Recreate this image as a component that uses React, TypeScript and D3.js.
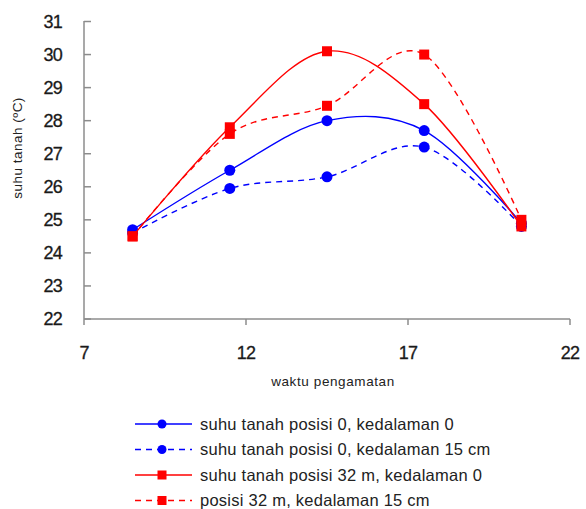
import React from "react";
import * as d3 from "d3";

const times = [8.5, 11.5, 14.5, 17.5, 20.5];
const blueSolid = [24.7, 26.5, 28.0, 27.7, 24.9];
const blueDashed = [24.6, 25.95, 26.3, 27.2, 24.8];
const redSolid = [24.5, 27.8, 30.1, 28.5, 24.8];
const redDashed = [24.5, 27.6, 28.45, 30.0, 25.0];
const xTicks = [7, 12, 17, 22];
const yTicks = [22, 23, 24, 25, 26, 27, 28, 29, 30, 31];
const seriesNames = [
  "suhu tanah posisi 0, kedalaman 0",
  "suhu tanah posisi 0, kedalaman 15 cm",
  "suhu tanah posisi 32 m, kedalaman 0",
  "posisi 32 m, kedalaman 15 cm",
];

const series = [
  { name: seriesNames[0], values: blueSolid, color: "#0000ff", dashed: false, marker: "circle" },
  { name: seriesNames[1], values: blueDashed, color: "#0000ff", dashed: true, marker: "circle" },
  { name: seriesNames[2], values: redSolid, color: "#ff0000", dashed: false, marker: "square" },
  { name: seriesNames[3], values: redDashed, color: "#ff0000", dashed: true, marker: "square" },
];

const W = 586;
const H = 509;
const left = 84;
const right = 570;
const top = 21.5;
const bottom = 319;

export default function App() {
  const x = d3.scaleLinear().domain([7, 22]).range([left, right]);
  const y = d3.scaleLinear().domain([22, 31]).range([bottom, top]);
  const line = d3
    .line<number>()
    .x((_, i) => x(times[i]))
    .y((d) => y(d))
    .curve(d3.curveCatmullRom.alpha(0));
  const axisColor = "#8c8c8c";
  const font = "'Liberation Sans', Arial, sans-serif";

  const marker = (m: string, cx: number, cy: number, color: string, key: string) =>
    m === "circle" ? (
      <circle key={key} cx={cx} cy={cy} r={5.5} fill={color} />
    ) : (
      <rect key={key} x={cx - 5} y={cy - 5} width={10} height={10} fill={color} />
    );

  return (
    <svg
      width={W}
      height={H}
      style={{ position: "absolute", left: 0, top: 0, background: "#fff" }}
      fontFamily={font}
    >
      {/* axes */}
      <line x1={left} x2={left} y1={top - 0.5} y2={bottom} stroke={axisColor} strokeWidth={1.5} />
      <line x1={left} x2={right} y1={bottom} y2={bottom} stroke={axisColor} strokeWidth={1.5} />
      {yTicks.map((t) => (
        <g key={"y" + t}>
          <line x1={left} x2={left + 7} y1={y(t)} y2={y(t)} stroke={axisColor} strokeWidth={1.5} />
          <text
            x={62}
            y={y(t)}
            dy="0.36em"
            textAnchor="end"
            fontSize={18}
            letterSpacing={-0.8}
            fill="#1a1a1a"
            stroke="#1a1a1a"
            strokeWidth={0.3}
          >
            {t}
          </text>
        </g>
      ))}
      {xTicks.map((t) => (
        <g key={"x" + t}>
          <line x1={x(t)} x2={x(t)} y1={bottom} y2={bottom + 6} stroke={axisColor} strokeWidth={1.5} />
          <text
            x={x(t)}
            y={359}
            textAnchor="middle"
            fontSize={18}
            letterSpacing={-0.8}
            fill="#1a1a1a"
            stroke="#1a1a1a"
            strokeWidth={0.3}
          >
            {t}
          </text>
        </g>
      ))}
      <text x={333} y={386} textAnchor="middle" fontSize={13.5} fill="#222" letterSpacing={0.6}>
        waktu pengamatan
      </text>
      <text
        transform={`translate(22,${148}) rotate(-90)`}
        textAnchor="middle"
        fontSize={13.5}
        fill="#222"
        letterSpacing={0.5}
      >
        suhu tanah (ºC)
      </text>

      {/* series */}
      {series.map((s, si) => (
        <g key={"s" + si}>
          <path
            d={line(s.values) || ""}
            fill="none"
            stroke={s.color}
            strokeWidth={1.4}
            strokeDasharray={s.dashed ? "6,5" : undefined}
          />
          {s.values.map((v, i) => marker(s.marker, x(times[i]), y(v), s.color, `m${si}-${i}`))}
        </g>
      ))}

      {/* legend */}
      {series.map((s, i) => {
        const ly = 424 + i * 25.5;
        return (
          <g key={"l" + i}>
            <line
              x1={135}
              x2={192}
              y1={ly}
              y2={ly}
              stroke={s.color}
              strokeWidth={1.4}
              strokeDasharray={s.dashed ? "6,5" : undefined}
            />
            {s.marker === "circle" ? (
              <circle cx={162} cy={ly} r={4.5} fill={s.color} />
            ) : (
              <rect x={157.5} y={ly - 4.5} width={9} height={9} fill={s.color} />
            )}
            <text x={200} y={ly} dy="0.36em" fontSize={16.5} fill="#222" letterSpacing={0.25}>
              {s.name}
            </text>
          </g>
        );
      })}
    </svg>
  );
}
